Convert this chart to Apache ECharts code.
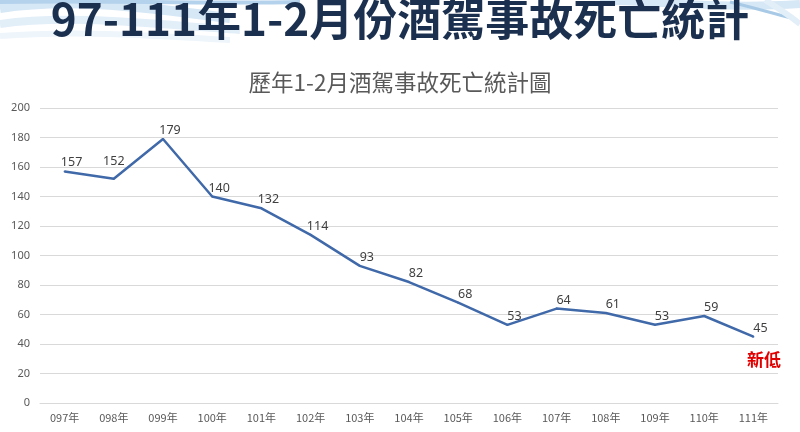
<!DOCTYPE html>
<html><head><meta charset="utf-8">
<script src="https://cdn.jsdelivr.net/npm/echarts@6/dist/echarts.min.js"></script>
<style>html,body{margin:0;padding:0;background:#fff}#c{width:800px;height:432px}</style>
</head><body><div id="c"></div>
<script>
var categories = ['097年','098年','099年','100年','101年','102年','103年','104年','105年','106年','107年','108年','109年','110年','111年'];
var deaths = [157,152,179,140,132,114,93,82,68,53,64,61,53,59,45];
var yTicks = {min:0, max:200, interval:20};
var mainTitle = '97-111年1-2月份酒駕事故死亡統計';
var subTitle = '歷年1-2月酒駕事故死亡統計圖';
var note = '新低';

var chart = echarts.init(document.getElementById('c'), null, {renderer:'canvas'});
var font = '"Noto Sans CJK TC","Noto Sans",sans-serif';
var seriesData = deaths.map(function (v, i) {
  return i === 1 ? {value: v, label: {offset: [0, -6]}} : v;
});
chart.setOption({
  animation:false,
  backgroundColor:'#fff',
  graphic:[
    {type:'bezierCurve', z:-1, shape:{x1:0,y1:8,cpx1:80,cpy1:-4,cpx2:160,cpy2:10,x2:230,y2:18}, style:{stroke:'#d6e7f5',lineWidth:10,fill:null}},
    {type:'bezierCurve', z:-1, shape:{x1:0,y1:24,cpx1:70,cpy1:14,cpx2:150,cpy2:24,x2:240,y2:30}, style:{stroke:'#e2eef8',lineWidth:8,fill:null}},
    {type:'bezierCurve', z:-1, shape:{x1:0,y1:36,cpx1:80,cpy1:30,cpx2:160,cpy2:36,x2:230,y2:40}, style:{stroke:'#eef5fb',lineWidth:6,fill:null}},
    {type:'bezierCurve', z:-1, shape:{x1:0,y1:2,cpx1:100,cpy1:0,cpx2:200,cpy2:4,x2:300,y2:2}, style:{stroke:'#b5d2ec',lineWidth:4,fill:null}},
    {type:'bezierCurve', z:-1, shape:{x1:600,y1:0,cpx1:680,cpy1:4,cpx2:740,cpy2:8,x2:800,y2:4}, style:{stroke:'#d6e7f5',lineWidth:8,fill:null}},
    {type:'bezierCurve', z:-1, shape:{x1:730,y1:2,cpx1:755,cpy1:8,cpx2:775,cpy2:14,x2:792,y2:18}, style:{stroke:'#a8cae6',lineWidth:3,fill:null}},
    {type:'bezierCurve', z:-1, shape:{x1:765,y1:0,cpx1:778,cpy1:8,cpx2:790,cpy2:16,x2:800,y2:24}, style:{stroke:'#e2eef8',lineWidth:6,fill:null}},
    {type:'text', left:'center', top:-3, z:10, style:{text:mainTitle, font:'bold 44px '+font, fill:'#1b2f4e'}},
    {type:'text', left:'center', top:71, style:{text:subTitle, font:'22.5px '+font, fill:'#595959'}},
    {type:'text', left:747, top:351, style:{text:note, font:'bold 17px '+font, fill:'#e00000'}}
  ],
  grid:{left:40, right:22, top:108, bottom:29},
  xAxis:{type:'category', data:categories, boundaryGap:true,
    axisLine:{lineStyle:{color:'#d9d9d9'}}, axisTick:{show:false},
    axisLabel:{color:'#595959', fontSize:11, fontFamily:font, margin:9}},
  yAxis:{type:'value', min:yTicks.min, max:yTicks.max, interval:yTicks.interval,
    axisLine:{show:false}, axisTick:{show:false},
    splitLine:{lineStyle:{color:'#d9d9d9'}},
    axisLabel:{color:'#595959', fontSize:11, fontFamily:'"Noto Sans",sans-serif', margin:10}},
  series:[{type:'line', data:seriesData, symbol:'circle', symbolSize:2, showSymbol:true, showAllSymbol:true,
    itemStyle:{color:'#4069a9'},
    lineStyle:{color:'#4069a9', width:2.5},
    label:{show:true, position:'top', distance:4, offset:[7,3], color:'#404040', fontSize:12.5, fontFamily:'"Noto Sans",sans-serif'}}]
});
</script></body></html>
